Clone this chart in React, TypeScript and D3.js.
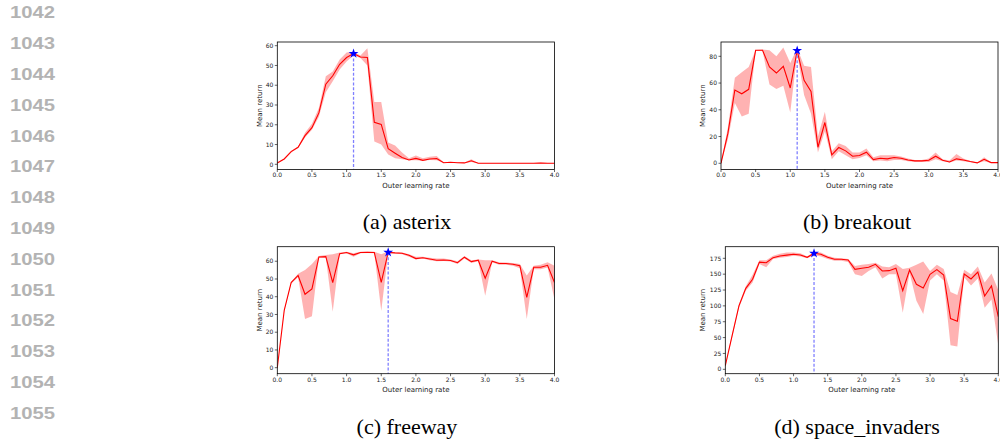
import React from "react";
import * as d3 from "d3";

// outer learning rates swept (x axis)
const lrValues = [
  0.0, 0.1, 0.2, 0.3, 0.4, 0.5, 0.6, 0.7, 0.8, 0.9, 1.0, 1.1, 1.2, 1.3, 1.4, 1.5, 1.6, 1.7, 1.8, 1.9, 2.0,
  2.1, 2.2, 2.3, 2.4, 2.5, 2.6, 2.7, 2.8, 2.9, 3.0, 3.1, 3.2, 3.3, 3.4, 3.5, 3.6, 3.7, 3.8, 3.9, 4.0,
];
const xTicks = [0, 0.5, 1, 1.5, 2, 2.5, 3, 3.5, 4];

// asterix
const asterixMean = [
  0.7, 2.7, 6.4, 8.6, 14.5, 18.5, 26, 40.5, 44.8, 50.6, 54, 56, 54.3, 54, 21.2, 20.2, 7.9, 5.6, 3.4, 2.2, 3,
  2, 2.7, 2.9, 0.8, 1, 0.8, 0.7, 1.8, 0.5, 0.5, 0.5, 0.5, 0.5, 0.5, 0.5, 0.5, 0.5, 0.6, 0.5, 0.5,
];
const asterixLow = [
  0.5, 2.4, 6, 8.2, 13.5, 17.5, 24, 36.5, 42, 48, 52, 55, 53.8, 50, 11.5, 10, 5, 3, 2.5, 2, 2,
  1.8, 2.2, 2, 0.6, 0.8, 0.6, 0.5, 1.2, 0.4, 0.4, 0.4, 0.4, 0.4, 0.4, 0.4, 0.4, 0.4, 0.4, 0.4, 0.4,
];
const asterixHigh = [
  0.9, 3, 6.8, 9, 16, 20.5, 28.5, 44.5, 47, 53, 56.5, 57, 55, 58.7, 31.5, 31.5, 11, 9.5, 6, 3, 4.5,
  3, 3.8, 4.2, 1, 1.2, 1, 0.9, 2.5, 0.6, 0.6, 0.6, 0.6, 0.6, 0.6, 0.6, 0.6, 0.6, 0.9, 0.7, 0.6,
];

// breakout
const breakoutMean = [
  0, 22.5, 54.8, 52, 55.3, 84.5, 84.5, 72, 67.5, 72.5, 56.3, 84.3, 62, 53.8, 12, 30.5, 6.3, 11.8, 9.3, 5.3, 5.8,
  8.3, 2.8, 3.8, 3.3, 4.3, 3.8, 2.5, 1.8, 1.8, 2.3, 5.3, 2.3, 1, 3.3, 2.5, 1.3, 0.3, 3, 0.5, 0.5,
];
const breakoutLow = [
  0, 18, 45, 35, 37, 84, 84, 59, 55.5, 58, 38, 82, 51, 37, 8, 24, 3, 9, 6, 3, 4,
  6, 1.5, 2, 1.5, 2.5, 2.5, 1.5, 1, 1, 1, 3, 1.5, 0.5, 2, 1.5, 0.8, 0, 1.5, 0.3, 0.3,
];
const breakoutHigh = [
  0.5, 27, 64, 68, 72, 84.8, 85, 84.5, 80, 86.5, 75, 86, 73, 72, 20, 38.5, 9, 15, 13, 8, 8,
  11, 4.5, 6, 6, 6, 5, 3.5, 2.5, 2.5, 3.5, 8, 3, 2, 7, 3.5, 1.8, 0.5, 4.5, 0.8, 0.8,
];

// freeway
const freewayMean = [
  0, 32.3, 48, 52, 41.4, 44.4, 62.4, 62.6, 48, 64.3, 64.9, 63.6, 64.9, 65, 64.9, 48.1, 65, 64.7, 64.5, 63.4, 61.5,
  62, 61.3, 60.6, 60.7, 60.4, 59.2, 62.3, 59.8, 60.6, 50.4, 60, 58.7, 58.7, 58.3, 57.5, 39.7, 56.6, 56.6, 57.7, 48,
];
const freewayLow = [
  0, 32, 47.5, 51, 27.5, 29, 62, 62, 31.5, 64, 64.5, 62.5, 64.5, 64.7, 64.5, 32, 64.5, 64.3, 64, 62.5, 61,
  61.5, 60.5, 60, 60.2, 59.8, 58.5, 61.5, 59, 60, 40.5, 59.5, 58, 58, 57.5, 56, 27.5, 55.5, 55.5, 56.5, 38.5,
];
const freewayHigh = [
  0, 33, 48.5, 53, 55, 58.5, 63, 63.5, 64, 65, 65.3, 64.5, 65.3, 65.3, 65.3, 64, 65.5, 65, 65, 64, 62.5,
  62.5, 62, 61.5, 61.5, 61, 60, 63, 60.5, 61, 60.5, 60.5, 59.5, 59.3, 59, 58.5, 52, 57.5, 58, 59.5, 57.5,
];

// space_invaders
const invadersMean = [
  5.8, 53, 100, 127.7, 142, 169, 168, 176, 178.7, 180, 181.3, 180.2, 176.6, 182.9, 181.3, 176.6, 173.4, 173.4, 172.4, 157.6, 159.2,
  160.8, 165.5, 155, 155.5, 159.2, 124, 156.6, 134, 128.2, 149.8, 157.1, 148.7, 79.9, 75.7, 150.3, 142.4, 153.4, 115.6, 131.4, 83,
];
const invadersLow = [
  5, 50, 97, 124, 137, 166, 161, 174, 176, 177, 179, 178, 175, 180, 178, 174, 171, 171, 169, 150, 147,
  155, 161, 143, 150, 150, 89, 152, 108, 87, 140, 150, 140, 38, 36, 145, 132, 143, 97, 110, 38,
];
const invadersHigh = [
  6.5, 56, 103, 131, 149, 172, 172, 179, 182, 184, 184, 183, 178, 185, 184, 179, 176, 175, 174, 163, 165,
  166, 168, 162, 161, 166, 158, 160, 165, 170, 155, 165, 158, 122, 117, 157, 150, 162, 137, 151, 125,
];

const captions = ["(a) asterix", "(b) breakout", "(c) freeway", "(d) space_invaders"];
const bestLr = [1.1, 1.1, 1.6, 1.3];
const lineNumbers = [1042, 1043, 1044, 1045, 1046, 1047, 1048, 1049, 1050, 1051, 1052, 1053, 1054, 1055];

const panels = [
  {
    mean: asterixMean, low: asterixLow, high: asterixHigh, best: bestLr[0], caption: captions[0],
    yTicks: [0, 10, 20, 30, 40, 50, 60], yDomain: [-2.63, 61.87],
    left: 277.3, right: 554.5, top: 42, bottom: 169.5, ylabelOff: 17.5, capX: 407, capY: 229,
  },
  {
    mean: breakoutMean, low: breakoutLow, high: breakoutHigh, best: bestLr[1], caption: captions[1],
    yTicks: [0, 20, 40, 60, 80], yDomain: [-4.65, 90.7],
    left: 721, right: 998, top: 42, bottom: 169.5, ylabelOff: 18.3, capX: 857, capY: 229,
  },
  {
    mean: freewayMean, low: freewayLow, high: freewayHigh, best: bestLr[2], caption: captions[2],
    yTicks: [0, 10, 20, 30, 40, 50, 60], yDomain: [-3.38, 68.2],
    left: 277.3, right: 554.5, top: 246.7, bottom: 373.7, ylabelOff: 18, capX: 407, capY: 434,
  },
  {
    mean: invadersMean, low: invadersLow, high: invadersHigh, best: bestLr[3], caption: captions[3],
    yTicks: [0, 25, 50, 75, 100, 125, 150, 175], yDomain: [-6.94, 193.3],
    left: 725.3, right: 998.3, top: 246.7, bottom: 373.7, ylabelOff: 22.5, capX: 857, capY: 434,
  },
];

const axisFont = "DejaVu Sans, sans-serif";

function Panel({ p, id }: { p: any; id: number }) {
  const x = d3.scaleLinear().domain([0, 4]).range([p.left, p.right]);
  const y = d3.scaleLinear().domain(p.yDomain).range([p.bottom, p.top]);

  const line = d3
    .line<number>()
    .x((_, i) => x(lrValues[i]))
    .y((d) => y(d));
  const area = d3
    .area<number>()
    .x((_, i) => x(lrValues[i]))
    .y0((_, i) => y(p.low[i]))
    .y1((_, i) => y(p.high[i]));

  const bi = lrValues.findIndex((v) => Math.abs(v - p.best) < 1e-6);
  const sx = x(p.best);
  const sy = y(p.mean[bi]);
  const star = d3.symbol(d3.symbolStar, 30)();
  const clipId = `clip-${id}`;

  return (
    <g>
      <defs>
        <clipPath id={clipId}>
          <rect x={p.left} y={p.top} width={p.right - p.left} height={p.bottom - p.top} />
        </clipPath>
      </defs>
      <g clipPath={`url(#${clipId})`}>
        <path d={area(p.mean) || ""} fill="#ff0000" fillOpacity={0.3} stroke="none" />
        <path d={line(p.mean) || ""} fill="none" stroke="#ff0000" strokeWidth={1.1} />
        <line x1={sx} x2={sx} y1={sy} y2={p.bottom} stroke="#7f7fff" strokeWidth={1.3} strokeDasharray="3,1.8" />
      </g>
      <path d={star || ""} transform={`translate(${sx},${sy})`} fill="#0000ff" />
      <rect x={p.left} y={p.top} width={p.right - p.left} height={p.bottom - p.top} fill="none" stroke="#000" strokeWidth={0.8} />

      {xTicks.map((t) => (
        <g key={`x${t}`}>
          <line x1={x(t)} x2={x(t)} y1={p.bottom} y2={p.bottom + 2.5} stroke="#000" strokeWidth={0.6} />
          <text x={x(t)} y={p.bottom + 7.8} textAnchor="middle" fontSize={6} fontFamily={axisFont} fill="#222">
            {t.toFixed(1)}
          </text>
        </g>
      ))}
      {p.yTicks.map((t: number) => (
        <g key={`y${t}`}>
          <line x1={p.left - 2.5} x2={p.left} y1={y(t)} y2={y(t)} stroke="#000" strokeWidth={0.6} />
          <text x={p.left - 4} y={y(t) + 2.2} textAnchor="end" fontSize={6} fontFamily={axisFont} fill="#222">
            {t}
          </text>
        </g>
      ))}
      <text x={(p.left + p.right) / 2} y={p.bottom + 18} textAnchor="middle" fontSize={7} fontFamily={axisFont} fill="#222">
        Outer learning rate
      </text>
      <text
        transform={`translate(${p.left - p.ylabelOff},${(p.top + p.bottom) / 2}) rotate(-90)`}
        textAnchor="middle"
        dy="0.35em"
        fontSize={7}
        fontFamily={axisFont}
        fill="#222"
      >
        Mean return
      </text>
      <text x={p.capX} y={p.capY} textAnchor="middle" fontSize={22} fontFamily="Liberation Serif, serif" fill="#000">
        {p.caption}
      </text>
    </g>
  );
}

export default function App() {
  return (
    <svg
      width={1000}
      height={442}
      style={{ position: "absolute", left: 0, top: 0, background: "#fff" }}
    >
      <rect x={0} y={0} width={1000} height={442} fill="#fff" />
      {lineNumbers.map((n, i) => (
        <text
          key={n}
          x={10}
          y={12.7 + i * 30.8 + 5.7}
          fontSize={16}
          fontWeight="bold"
          fontFamily="Liberation Sans, Arial, sans-serif"
          fill="#b3b3b3"
          textLength={45}
          lengthAdjust="spacingAndGlyphs"
        >
          {n}
        </text>
      ))}
      {panels.map((p, i) => (
        <Panel key={i} p={p} id={i} />
      ))}
    </svg>
  );
}
